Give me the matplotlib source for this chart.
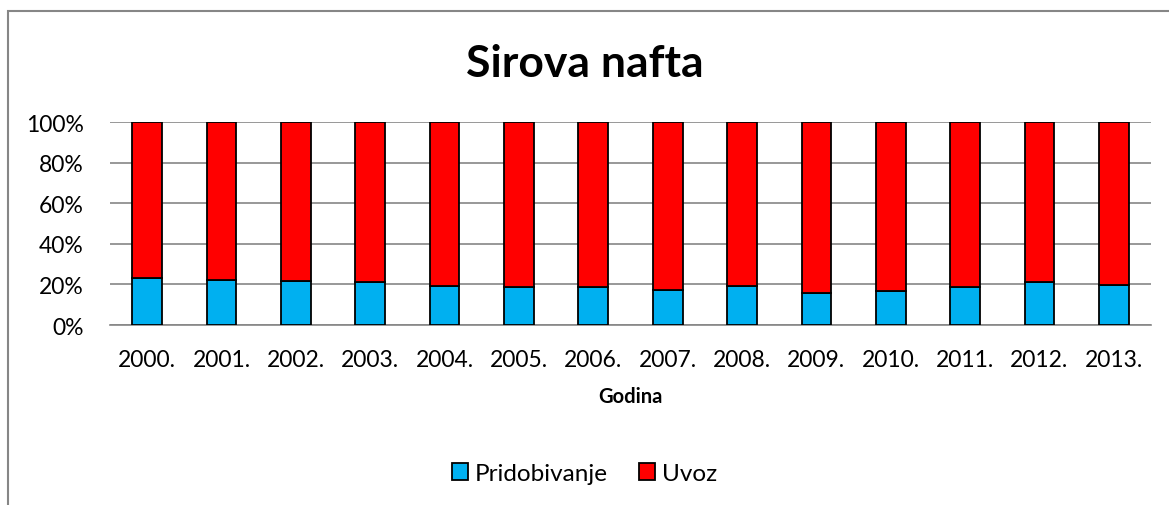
import matplotlib.pyplot as plt
from matplotlib.patches import Rectangle
from matplotlib.ticker import PercentFormatter

plt.rcParams['font.family'] = ['Lato', 'DejaVu Sans']

# data (share of total, %)
years = ['2000.', '2001.', '2002.', '2003.', '2004.', '2005.', '2006.',
         '2007.', '2008.', '2009.', '2010.', '2011.', '2012.', '2013.']
pridobivanje = [23.3, 22.0, 21.5, 21.3, 19.0, 18.7, 18.9,
                17.1, 19.0, 15.8, 16.6, 18.5, 21.0, 19.5]
uvoz = [100 - p for p in pridobivanje]

fig = plt.figure(figsize=(11.69, 5.06), dpi=100)
ax = fig.add_axes([0.0941, 0.3557, 0.8905, 0.4012])

x = range(len(years))
ax.bar(x, pridobivanje, width=0.4, color='#00B0F0', edgecolor='black',
       linewidth=1.3, label='Pridobivanje', zorder=3)
ax.bar(x, uvoz, width=0.4, bottom=pridobivanje, color='#FF0000',
       edgecolor='black', linewidth=1.3, label='Uvoz', zorder=3)

ax.set_xlim(-0.5, len(years) - 0.5)
ax.set_ylim(0, 100)
ax.set_yticks([0, 20, 40, 60, 80, 100])
ax.yaxis.set_major_formatter(PercentFormatter(decimals=0))
ax.set_xticks(list(x))
ax.set_xticklabels(years)
ax.tick_params(axis='both', length=0, labelsize=16.5, colors='black')
ax.tick_params(axis='x', pad=17)
ax.tick_params(axis='y', pad=19)
ax.grid(axis='y', color='#868686', linewidth=1.2, zorder=0)
for s in ['top', 'right', 'left']:
    ax.spines[s].set_visible(False)
ax.spines['bottom'].set_color('#868686')
ax.spines['bottom'].set_linewidth(1.2)

ax.set_xlabel('Godina', fontsize=14.5, fontweight='bold', labelpad=12)
fig.text(0.5, 1 - 77 / 506, 'Sirova nafta', ha='center', va='baseline',
         fontsize=32, fontweight='bold')

ax.legend(loc='center', bbox_to_anchor=(0.5, 1 - 474.5 / 506), bbox_transform=fig.transFigure,
          ncol=2, frameon=False, fontsize=17.5, handlelength=0.66, handleheight=0.66,
          handletextpad=0.29, columnspacing=1.3)

# chart area border (cropped at right/bottom)
fig.add_artist(Rectangle((8 / 1169, -0.2), 1.5, 1.2 - 11.5 / 506,
                         transform=fig.transFigure, fill=False,
                         edgecolor='#868686', linewidth=1.5))

fig.savefig('out.png', dpi=100)
